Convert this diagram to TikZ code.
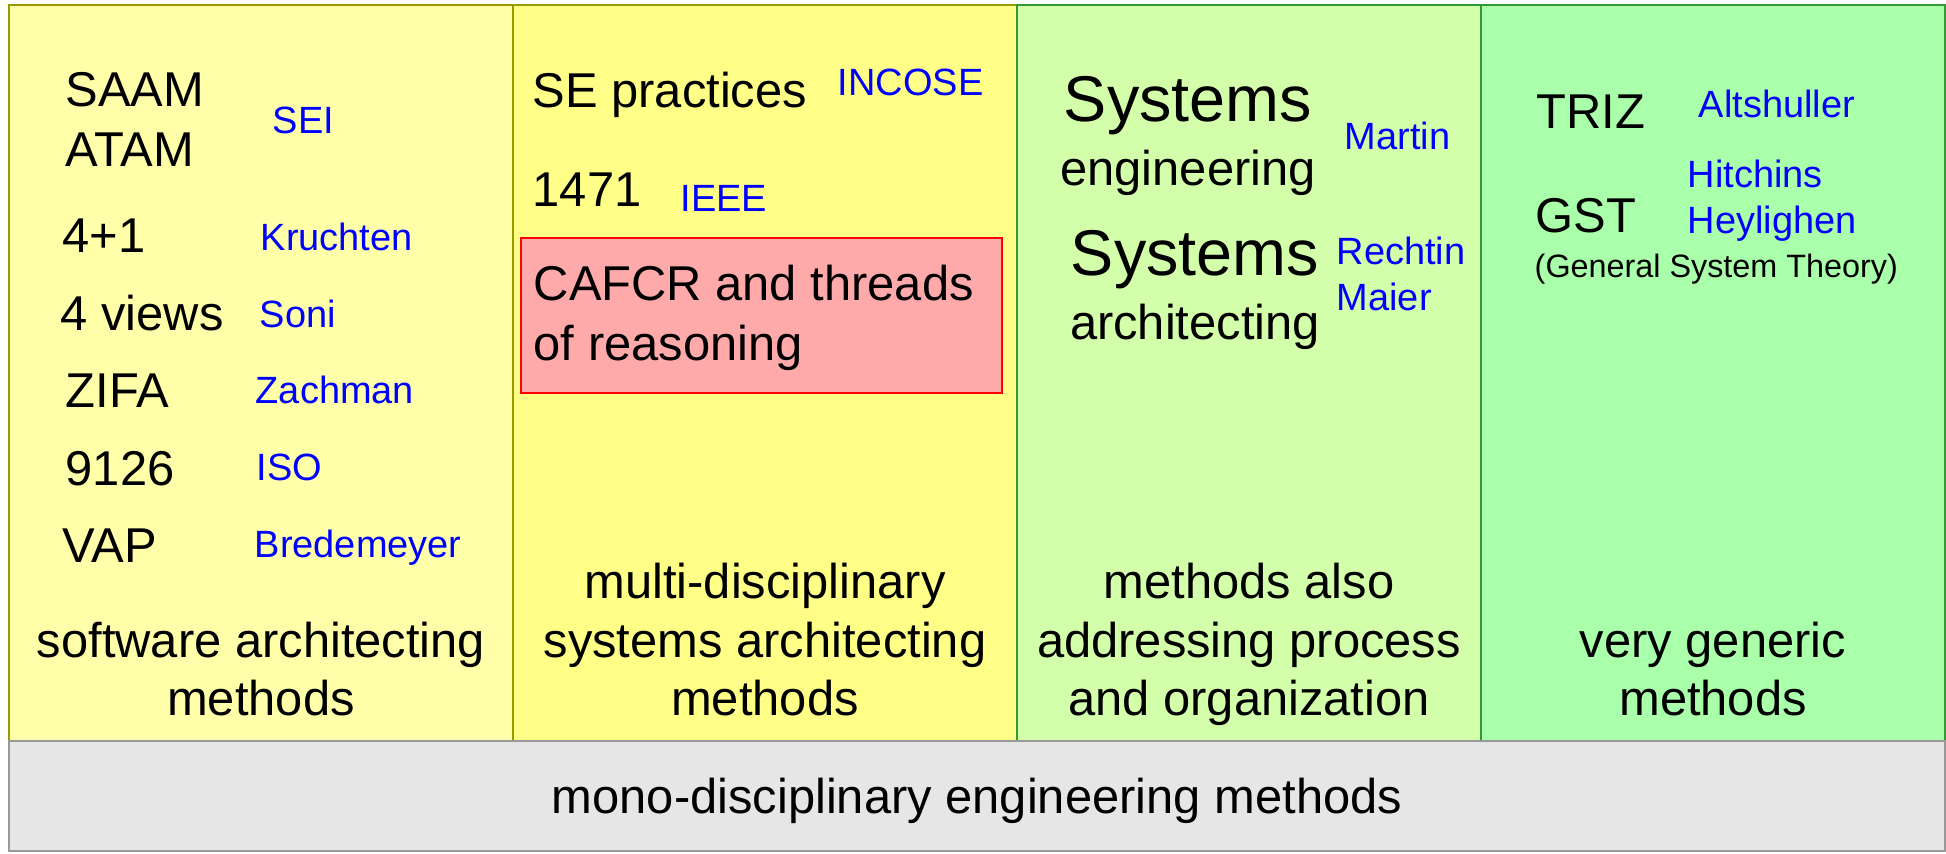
\documentclass[tikz,border=0pt]{standalone}
\usepackage{fontspec}
\setmainfont{Liberation Sans}
\usepackage{xcolor}
\usepackage{tikz}
\usetikzlibrary{positioning}

\definecolor{swfill}{HTML}{FFFFAA}
\definecolor{msfill}{HTML}{FFFF88}
\definecolor{orgfill}{HTML}{D4FFAA}
\definecolor{genfill}{HTML}{AAFFAA}
\definecolor{monofill}{HTML}{E6E6E6}
\definecolor{cafcrfill}{HTML}{FFAAAA}
\definecolor{yelline}{HTML}{999900}
\definecolor{grnline}{HTML}{339933}
\definecolor{monoline}{HTML}{999999}
\definecolor{nameblue}{HTML}{0000FF}

\begin{document}
\begin{tikzpicture}[x=0.01cm,y=-0.01cm,
	term/.style={font=\fontsize{13.9}{16.8}\selectfont, inner sep=0pt, anchor=base west},
	author/.style={font=\fontsize{10.8}{12.9}\selectfont, text=nameblue, inner sep=0pt, anchor=base west},
	bigterm/.style={font=\fontsize{18.4}{22}\selectfont, inner sep=0pt, anchor=base},
	caption/.style={font=\fontsize{13.9}{16.5}\selectfont, inner sep=0pt, align=center, anchor=base}]
	\def\top{5}
	\def\bot{741}
	
	\useasboundingbox (0,0) rectangle (1946,853);
	
	% columns
	\draw[yelline, fill=swfill, line width=0.5pt] (9,\top) rectangle (513,\bot);
	\draw[yelline, fill=msfill, line width=0.5pt] (513,\top) rectangle (1017,\bot);
	\draw[grnline, fill=orgfill, line width=0.5pt] (1017,\top) rectangle (1481,\bot);
	\draw[grnline, fill=genfill, line width=0.5pt] (1481,\top) rectangle (1945,\bot);
	\draw[monoline, fill=monofill, line width=0.5pt] (9,\bot) rectangle (1945,851);
	
	% software architecting methods (base = last line)
	\node[term, align=left] (saam) at (65,166) {SAAM\\ATAM};
	\node[author] (sei) at (272,133) {SEI};
	\node[term] (fourone) at (62,252) {4+1};
	\node[author] (kruchten) at (260,250) {Kruchten};
	\node[term] (fourviews) at (60,330) {4 views};
	\node[author] (soni) at (259,327) {Soni};
	\node[term] (zifa) at (65,407) {ZIFA};
	\node[author] (zachman) at (255,403) {Zachman};
	\node[term] (iso9126) at (65,485) {9126};
	\node[author] (iso) at (256,480) {ISO};
	\node[term] (vap) at (62,562) {VAP};
	\node[author] (bredemeyer) at (254,557) {Bredemeyer};
	\node[caption] (swcap) at (261,715) {software architecting\\methods};
	
	% multi-disciplinary systems architecting methods
	\node[term] (sepract) at (532,107) {SE practices};
	\node[author] (incose) at (837,95) {INCOSE};
	\node[term] (ieee1471) at (532,206) {1471};
	\node[author] (ieee) at (680,211) {IEEE};
	\draw[red, fill=cafcrfill, line width=0.6pt] (521,238) rectangle (1002,393);
	\node[term, align=left] (cafcr) at (533,360) {CAFCR and threads\\of reasoning};
	\node[caption] (mscap) at (765,715) {multi-disciplinary\\systems architecting\\methods};
	
	% process and organization
	\node[bigterm] (syseng) at (1188,121) {Systems};
	\node[term, anchor=base] (syseng2) at (1188,185) {engineering};
	\node[author] (martin) at (1344,149) {Martin};
	\node[bigterm] (sysarch) at (1195,275) {Systems};
	\node[term, anchor=base] (sysarch2) at (1195,339) {architecting};
	\node[author, align=left] (rechtin) at (1336,310) {Rechtin\\Maier};
	\node[caption] (orgcap) at (1249,715) {methods also\\addressing process\\and organization};
	
	% very generic methods
	\node[term] (triz) at (1536,128) {TRIZ};
	\node[author] (altshuller) at (1698,117) {Altshuller};
	\node[term] (gst) at (1535,232) {GST};
	\node[author, align=left] (hitchins) at (1687,233) {Hitchins\\Heylighen};
	\node[author, text=black, font=\fontsize{9.2}{11}\selectfont] (gstlong) at (1534,277) {(General System Theory)};
	\node[caption] (gencap) at (1713,715) {very generic\\methods};
	
	% mono-disciplinary
	\node[caption] (monocap) at (977,813) {mono-disciplinary engineering methods};
\end{tikzpicture}
\end{document}
